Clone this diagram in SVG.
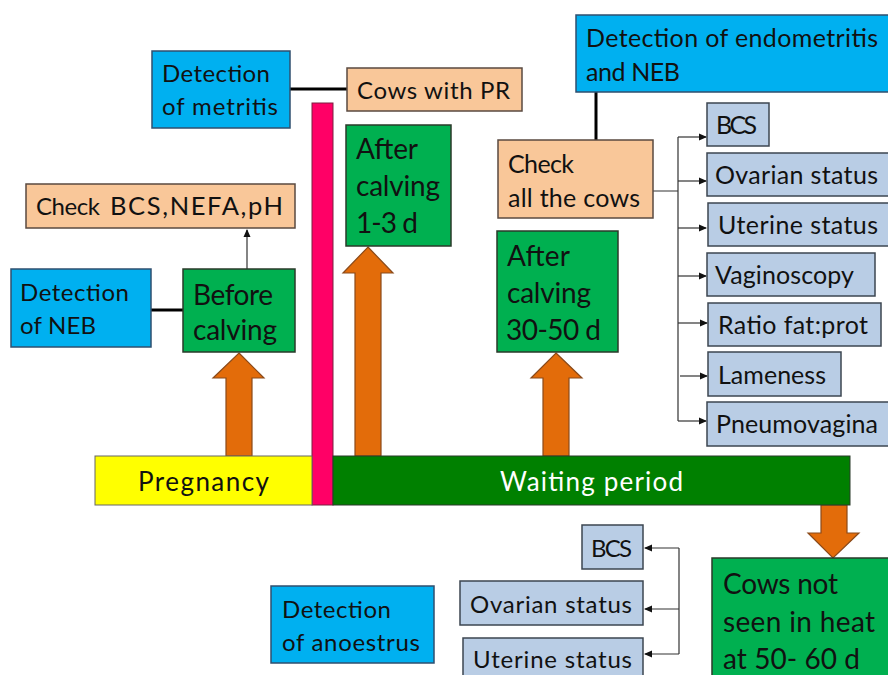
<svg xmlns="http://www.w3.org/2000/svg" width="888" height="675" viewBox="0 0 888 675">
<defs>
<style>
text{font-family:Lato,"Open Sans","Liberation Sans",sans-serif;fill:#111;}
.t22{font-size:24px;}
.t23{font-size:25px;}
.t24{font-size:26px;}
.t26{font-size:28px;}
.blue{fill:#00B0F0;stroke:#2F4F6F;stroke-width:1.5;}
.peach{fill:#F9C799;stroke:#5a4a40;stroke-width:1.5;}
.green{fill:#00B050;stroke:#2a3a2a;stroke-width:1.5;}
.grey{fill:#B9CDE5;stroke:#3c4650;stroke-width:1.5;}
.arrow{fill:#E36C0A;stroke:#8a4a1a;stroke-width:1.2;}
.thick{stroke:#000;stroke-width:3;fill:none;}
.thin{stroke:#333;stroke-width:1.2;fill:none;}
</style>
<marker id="ah" markerWidth="8" markerHeight="8" refX="7" refY="4" orient="auto" markerUnits="userSpaceOnUse">
<path d="M0,0.5 L8,4 L0,7.5 Z" fill="#111"/>
</marker>
</defs>
<rect width="888" height="675" fill="#fff"/>

<g id="connectors">
<line class="thick" x1="290" y1="89" x2="347" y2="89"/>
<line class="thick" x1="151" y1="310" x2="183" y2="310"/>
<line class="thick" x1="596" y1="92" x2="596" y2="140"/>
<line class="thin" x1="247" y1="269" x2="247" y2="230" marker-end="url(#ah)"/>
<path class="thin" d="M653,191 H678 M678,137 V421"/>
<line class="thin" x1="678" y1="137" x2="706" y2="137" marker-end="url(#ah)"/>
<line class="thin" x1="678" y1="181" x2="706" y2="181" marker-end="url(#ah)"/>
<line class="thin" x1="678" y1="228" x2="706" y2="228" marker-end="url(#ah)"/>
<line class="thin" x1="678" y1="276" x2="706" y2="276" marker-end="url(#ah)"/>
<line class="thin" x1="678" y1="323" x2="707" y2="323" marker-end="url(#ah)"/>
<line class="thin" x1="680" y1="376" x2="707" y2="376" marker-end="url(#ah)"/>
<line class="thin" x1="678" y1="421" x2="706" y2="421" marker-end="url(#ah)"/>
<path class="thin" d="M679,548 V654"/>
<line class="thin" x1="679" y1="548" x2="645" y2="548" marker-end="url(#ah)"/>
<line class="thin" x1="679" y1="609" x2="645" y2="609" marker-end="url(#ah)"/>
<line class="thin" x1="679" y1="654" x2="645" y2="654" marker-end="url(#ah)"/>
<polygon class="arrow" points="239,353 264,378 252,378 252,456 226,456 226,378 213,378"/>
<polygon class="arrow" points="368,247 393,273 381,273 381,456 355,456 355,273 343,273"/>
<polygon class="arrow" points="556,353 582,378 569,378 569,456 543,456 543,378 531,378"/>
<polygon class="arrow" points="821,505 847,505 847,533 859,533 833,558 808,533 821,533"/>
</g>

<g id="metritis">
<rect class="blue" x="152" y="51" width="138" height="77"/>
<text class="t22" x="162" y="82" textLength="108">Detection</text>
<text class="t22" x="162" y="115" textLength="116">of metritis</text>
</g>
<g id="cows-pr">
<rect class="peach" x="347" y="68" width="175" height="43"/>
<text class="t22" x="357" y="99" textLength="153">Cows with PR</text>
</g>
<g id="check-bcs">
<rect class="peach" x="26" y="184" width="269" height="44"/>
<text class="t22" x="36" y="215" textLength="64">Check</text>
<text class="t22" x="110" y="215" textLength="173" style="font-size:25.5px">BCS,NEFA,pH</text>
</g>
<g id="neb">
<rect class="blue" x="11" y="269" width="140" height="78"/>
<text class="t22" x="20" y="301" textLength="109">Detection</text>
<text class="t22" x="20" y="334" textLength="76">of NEB</text>
</g>
<g id="before">
<rect class="green" x="183" y="269" width="112" height="83"/>
<text class="t26" x="193" y="305" textLength="80">Before</text>
<text class="t26" x="193" y="340" textLength="84">calving</text>
</g>
<g id="pink-bar">
<rect x="312" y="103" width="21" height="402" fill="#FF0066" stroke="#7a2040" stroke-width="1"/>
</g>
<g id="pregnancy">
<rect x="95" y="456" width="217" height="49" fill="#FFFF00" stroke="#666" stroke-width="1"/>
<text class="t24" x="138" y="491" textLength="131">Pregnancy</text>
</g>
<g id="waiting">
<rect x="333" y="456" width="517" height="49" fill="#008000" stroke="#2a3a2a" stroke-width="1"/>
<text class="t24" x="500" y="491" textLength="183" style="fill:#fff">Waiting period</text>
</g>
<g id="after-1-3">
<rect class="green" x="346" y="125" width="105" height="121"/>
<text class="t26" x="356" y="159" textLength="62">After</text>
<text class="t26" x="356" y="196" textLength="84">calving</text>
<text class="t26" x="356" y="233" textLength="62">1-3 d</text>
</g>
<g id="after-30-50">
<rect class="green" x="497" y="231" width="121" height="121"/>
<text class="t26" x="507" y="266" textLength="63">After</text>
<text class="t26" x="507" y="303" textLength="84">calving</text>
<text class="t26" x="506" y="340" textLength="95">30-50 d</text>
</g>
<g id="endometritis">
<rect class="blue" x="576" y="15" width="320" height="77"/>
<text class="t23" x="586" y="47" textLength="292">Detection of endometritis</text>
<text class="t23" x="586" y="81" textLength="94">and NEB</text>
</g>
<g id="check-all">
<rect class="peach" x="498" y="140" width="155" height="78"/>
<text class="t23" x="508" y="173" textLength="66">Check</text>
<text class="t23" x="508" y="207" textLength="132">all the cows</text>
</g>
<g id="r-bcs">
<rect class="grey" x="707" y="103" width="62" height="43"/>
<text class="t23" x="716" y="134" textLength="41">BCS</text>
</g>
<g id="r-ovarian">
<rect class="grey" x="707" y="153" width="190" height="43"/>
<text class="t23" x="715" y="184" textLength="163">Ovarian status</text>
</g>
<g id="r-uterine">
<rect class="grey" x="708" y="203" width="190" height="43"/>
<text class="t23" x="718" y="234" textLength="160">Uterine status</text>
</g>
<g id="r-vagino">
<rect class="grey" x="707" y="253" width="168" height="43"/>
<text class="t23" x="715" y="284" textLength="139">Vaginoscopy</text>
</g>
<g id="r-ratio">
<rect class="grey" x="708" y="303" width="173" height="43"/>
<text class="t23" x="718" y="334" textLength="150">Ratio fat:prot</text>
</g>
<g id="r-lameness">
<rect class="grey" x="708" y="352" width="133" height="44"/>
<text class="t23" x="718" y="384" textLength="108">Lameness</text>
</g>
<g id="r-pneumo">
<rect class="grey" x="707" y="402" width="190" height="44"/>
<text class="t23" x="716" y="433" textLength="162">Pneumovagina</text>
</g>
<g id="not-seen">
<rect class="green" x="712" y="558" width="185" height="125"/>
<text class="t26" x="723" y="594" textLength="115">Cows not</text>
<text class="t26" x="723" y="632" textLength="152">seen in heat</text>
<text class="t26" x="723" y="669" textLength="137">at 50- 60 d</text>
</g>
<g id="anoestrus">
<rect class="blue" x="271" y="586" width="163" height="77"/>
<text class="t22" x="282" y="618" textLength="109">Detection</text>
<text class="t22" x="282" y="651" textLength="138">of anoestrus</text>
</g>
<g id="l-bcs">
<rect class="grey" x="582" y="525" width="61" height="44"/>
<text class="t22" x="591" y="557" textLength="41">BCS</text>
</g>
<g id="l-ovarian">
<rect class="grey" x="460" y="581" width="183" height="44"/>
<text class="t22" x="470" y="613" textLength="162">Ovarian status</text>
</g>
<g id="l-uterine">
<rect class="grey" x="463" y="638" width="180" height="44"/>
<text class="t22" x="473" y="668" textLength="159">Uterine status</text>
</g>
</svg>
